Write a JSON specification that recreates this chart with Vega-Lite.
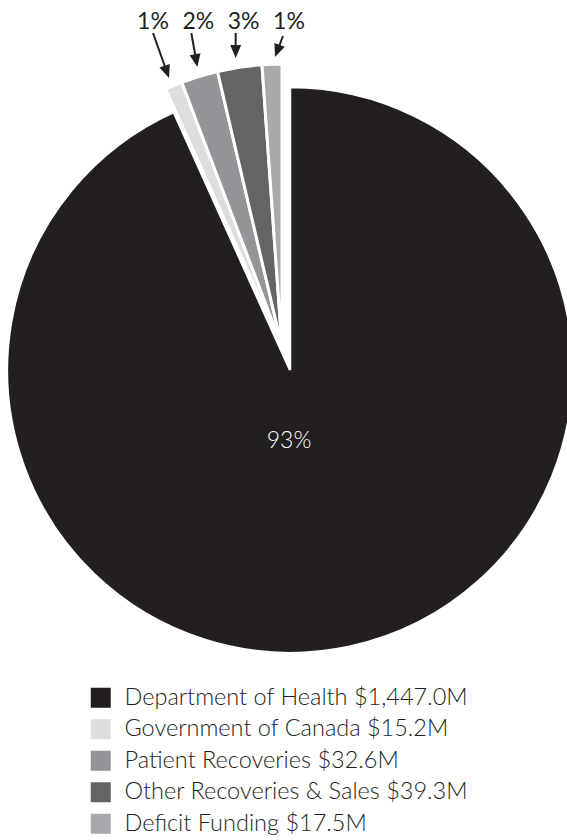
{
  "$schema": "https://vega.github.io/schema/vega-lite/v6.json",
  "width": 567,
  "height": 840,
  "autosize": "none",
  "padding": 0,
  "background": "white",
  "config": {"view": {"stroke": null}, "font": "Lato"},
  "data": {
    "values": [
      {"source": "Department of Health", "label": "Department of Health $1,447.0M", "amount": 1447.0, "pct": "93%", "order": 1},
      {"source": "Government of Canada", "label": "Government of Canada $15.2M", "amount": 15.2, "pct": "1%", "order": 2},
      {"source": "Patient Recoveries", "label": "Patient Recoveries $32.6M", "amount": 32.6, "pct": "2%", "order": 3},
      {"source": "Other Recoveries & Sales", "label": "Other Recoveries & Sales $39.3M", "amount": 39.3, "pct": "3%", "order": 4},
      {"source": "Deficit Funding", "label": "Deficit Funding $17.5M", "amount": 17.5, "pct": "1%", "order": 5}
    ]
  },
  "layer": [
    {
      "mark": {"type": "arc", "radius": 283, "xOffset": 6.5, "yOffset": -50, "stroke": "white", "strokeWidth": 2.5},
      "encoding": {
        "theta": {"field": "amount", "type": "quantitative", "stack": true},
        "order": {"field": "order", "type": "quantitative"},
        "color": {
          "field": "label", "type": "nominal", "sort": null,
          "scale": {
            "domain": ["Department of Health $1,447.0M", "Government of Canada $15.2M", "Patient Recoveries $32.6M", "Other Recoveries & Sales $39.3M", "Deficit Funding $17.5M"],
            "range": ["#231f20", "#dcdddf", "#939598", "#636466", "#a7a9ac"]
          },
          "legend": {
            "orient": "none", "legendX": 89, "legendY": 686, "title": null, "padding": 0,
            "symbolType": "square", "symbolSize": 400, "symbolStrokeWidth": 0, "symbolOpacity": 1,
            "labelFontSize": 23.5, "labelFont": "Lato", "labelFontWeight": 300, "labelColor": "#231f20",
            "labelOffset": 12, "rowPadding": 6.5, "labelLimit": 0
          }
        },
        "opacity": {"condition": {"test": "datum.source === 'Department of Health'", "value": 1}, "value": 0}
      }
    },
    {
      "mark": {"type": "arc", "radius": 283, "xOffset": -1.5, "yOffset": -73, "stroke": "white", "strokeWidth": 3},
      "encoding": {
        "theta": {"field": "amount", "type": "quantitative", "stack": true},
        "order": {"field": "order", "type": "quantitative"},
        "color": {"field": "label", "type": "nominal", "sort": null},
        "opacity": {"condition": {"test": "datum.source === 'Department of Health'", "value": 0}, "value": 1}
      }
    },
    {
      "transform": [{"filter": "datum.source === 'Department of Health'"}],
      "mark": {"type": "text", "xOffset": 5.5, "yOffset": 28, "baseline": "alphabetic", "fontSize": 23, "font": "Lato", "fontWeight": 300, "fill": "white"},
      "encoding": {"text": {"field": "pct", "type": "nominal"}}
    },
    {
      "transform": [{"filter": "datum.source !== 'Department of Health'"}],
      "mark": {"type": "text", "baseline": "alphabetic", "fontSize": 23, "font": "Lato", "fontWeight": 400, "fill": "#231f20"},
      "encoding": {
        "x": {"field": "source", "type": "nominal", "axis": null,
          "scale": {"type": "point", "padding": 0, "domain": ["Government of Canada", "Patient Recoveries", "Other Recoveries & Sales", "Deficit Funding"], "range": [153, 289]}},
        "y": {"value": 29},
        "text": {"field": "pct", "type": "nominal"}
      }
    },
    {
      "transform": [{"filter": "datum.source !== 'Department of Health'"}],
      "mark": {"type": "point", "filled": true, "fill": "#231f20", "opacity": 1, "size": 2500, "strokeWidth": 0},
      "encoding": {
        "x": {"field": "source", "type": "nominal", "axis": null},
        "y": {"value": 55},
        "shape": {"field": "source", "type": "nominal", "legend": null,
          "scale": {
            "domain": ["Government of Canada", "Patient Recoveries", "Other Recoveries & Sales", "Deficit Funding"],
            "range": [
              "M-0.038,-0.867L0.428,0.444L0.259,0.504L0.64,0.92L0.673,0.356L0.504,0.417L0.038,-0.893Z",
              "M-0.319,-0.873L-0.170,-0.025L-0.347,0.006L-0.04,0.48L0.086,-0.070L-0.091,-0.039L-0.241,-0.887Z",
              "M-0.36,-0.88L-0.36,-0.40L-0.54,-0.40L-0.32,0.12L-0.10,-0.40L-0.28,-0.40L-0.28,-0.88Z",
              "M-0.277,-0.774L-0.412,-0.420L-0.581,-0.484L-0.56,0.08L-0.169,-0.328L-0.338,-0.392L-0.203,-0.746Z"
            ]
          }
        }
      }
    }
  ]
}
